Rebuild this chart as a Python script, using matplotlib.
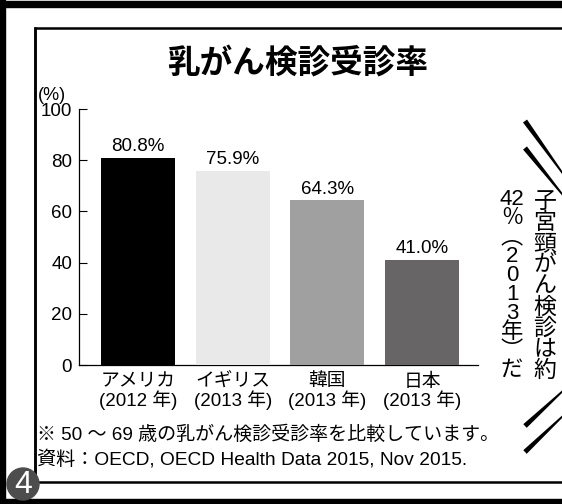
import numpy as np
import matplotlib
matplotlib.use("Agg")
import matplotlib.pyplot as plt
from matplotlib.patches import Rectangle, Circle, Polygon

plt.rcParams["font.family"] = ["Liberation Sans", "Noto Sans CJK JP"]

# data
countries = ["アメリカ", "イギリス", "韓国", "日本"]
years = ["2012", "2013", "2013", "2013"]
rates = [80.8, 75.9, 64.3, 41.0]
bar_colors = ["#000000", "#e8e9e8", "#a0a0a0", "#676565"]

title = "乳がん検診受診率"
note = "※ 50 ～ 69 歳の乳がん検診受診率を比較しています。"
source = "資料：OECD, OECD Health Data 2015, Nov 2015."
side_col1 = list("子宮頸がん検診は約")
side_col2 = ["42", "％", "︵", "2", "0", "1", "3", "年", "︶", "だ"]

W, H = 562, 504
fig = plt.figure(figsize=(W / 100, H / 100), dpi=100)

# decoration layer in pixel coordinates
deco = fig.add_axes([0, 0, 1, 1])
deco.set_xlim(0, W)
deco.set_ylim(H, 0)
deco.axis("off")

# outer frame (thick) and inner frame (thin)
deco.add_patch(Rectangle((0, 0), 5, H, color="black"))
deco.add_patch(Rectangle((0, 1), W, 6, color="black"))
deco.add_patch(Rectangle((0, 499), W, 5, color="black"))
deco.plot([34.5, 34.5, W], [482, 27.5, 27.5], color="black", lw=1.8,
          solid_joinstyle="miter")
deco.plot([34.5, 34.5, W], [27.5, 482, 482], color="black", lw=1.8,
          solid_joinstyle="miter")

# page number badge
deco.add_patch(Circle((23, 484), 16, color="#4d4d4d", zorder=5))
deco.text(23, 485, "4", color="white", fontsize=23, ha="center", va="center",
          zorder=6)


def wedge(p0, p1, w0, w1):
    p0, p1 = np.array(p0, float), np.array(p1, float)
    d = (p1 - p0) / np.linalg.norm(p1 - p0)
    n = np.array([-d[1], d[0]])
    pts = [p0 + n * w0 / 2, p1 + n * w1 / 2, p1 - n * w1 / 2, p0 - n * w0 / 2]
    deco.add_patch(Polygon(pts, closed=True, color="black", lw=0))


# speed lines around the side caption
wedge((525, 121), (566, 178), 5, 1.5)
wedge((525, 148), (566, 199), 5, 1.5)
wedge((525, 426), (566, 388), 5, 1.5)
wedge((525, 452), (566, 413), 5, 1.5)

# vertical side caption, one character per line
deco.text(545, 286, "\n".join(side_col1), fontsize=16.5, ha="center",
          va="center", multialignment="center", linespacing=0.89)
deco.text(512, 285, "\n".join(side_col2), fontsize=16, ha="center",
          va="center", multialignment="center", linespacing=0.87)

# title and notes
deco.text(298, 63, title, fontsize=23.5, fontweight="bold", ha="center",
          va="center", family=["Noto Sans CJK JP"])
deco.text(38, 95, "(%)", fontsize=13, ha="left", va="center")
deco.text(37, 435, note, fontsize=13.7, ha="left", va="center")
deco.text(37, 459, source, fontsize=13.8, ha="left", va="center")

# bar chart
ax = fig.add_axes([79 / W, 139 / H, 399 / W, 256 / H])
ax.patch.set_alpha(0)
x = np.arange(len(rates))
ax.bar(x, rates, width=0.78, color=bar_colors, zorder=3)
for xi, v in zip(x, rates):
    ax.annotate(f"{v:.1f}%", (xi, v), xytext=(0, 2), textcoords="offset points",
                ha="center", va="bottom", fontsize=13.5)

ax.set_xlim(-0.623, 3.591)
ax.set_ylim(0, 100)
ax.set_yticks([0, 20, 40, 60, 80, 100])
ax.set_xticks(x)
ax.set_xticklabels([f"{c}\n({y} 年)" for c, y in zip(countries, years)],
                   fontsize=13.5, linespacing=1.0)
ax.tick_params(axis="y", direction="in", length=6, width=0.8, pad=5,
               labelsize=13.5)
ax.tick_params(axis="x", length=0, pad=6)
for s in ["top", "right"]:
    ax.spines[s].set_visible(False)
for s in ["left", "bottom"]:
    ax.spines[s].set_linewidth(0.9)

fig.savefig("out.png", dpi=100)
